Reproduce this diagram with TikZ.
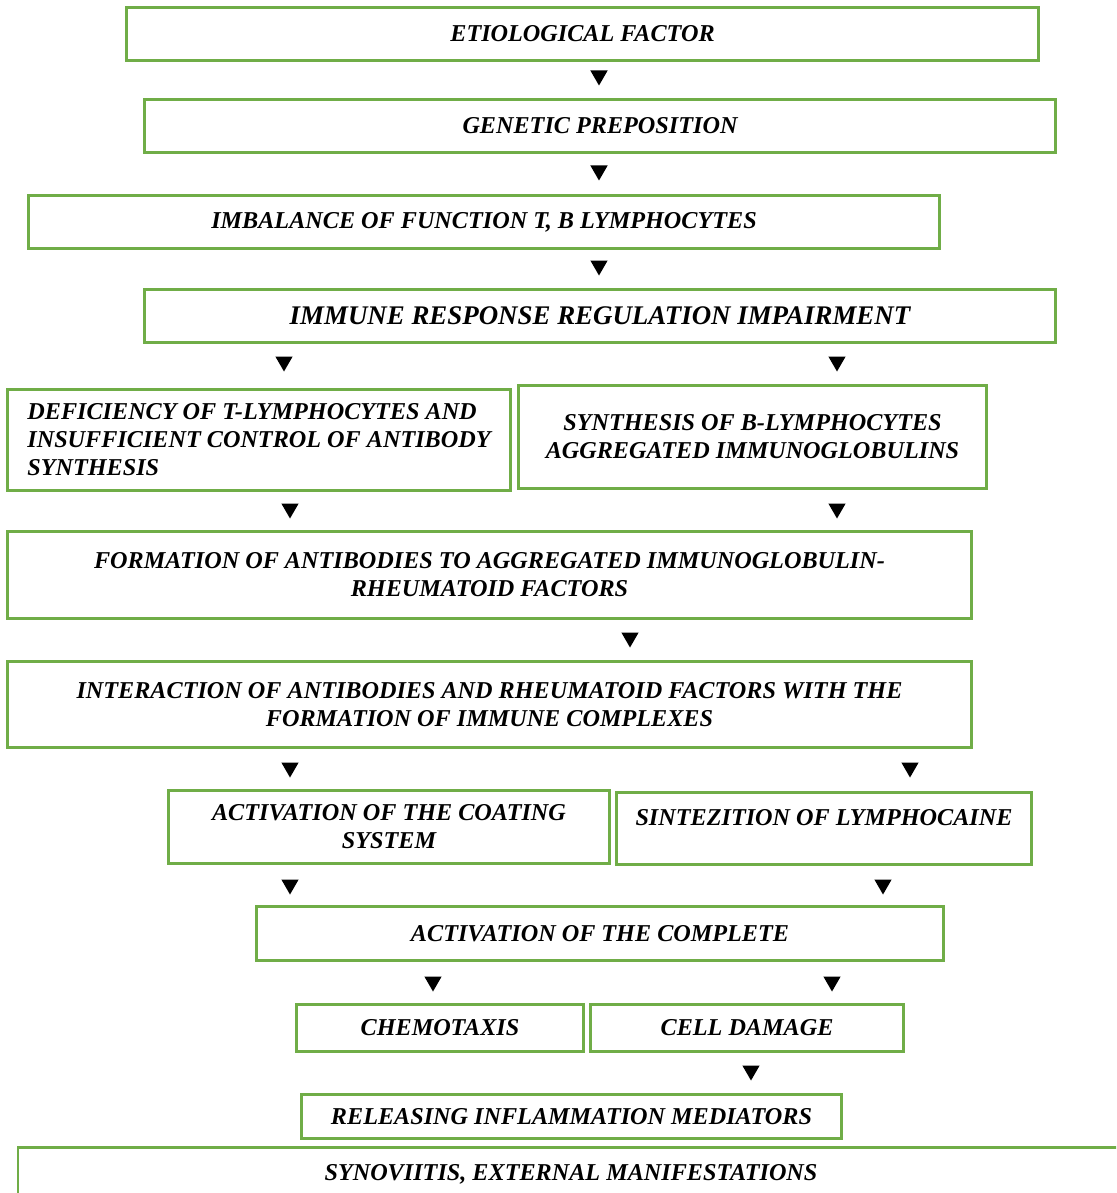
\documentclass[tikz,border=0pt]{standalone}
\usepackage{fontspec}
\setmainfont{Liberation Serif}
\usetikzlibrary{shapes.geometric}
\definecolor{boxgreen}{HTML}{70AD47}

\begin{document}
\begin{tikzpicture}[x=1pt, y=-1pt,
    box/.style={draw=boxgreen, line width=2.6pt, inner sep=0pt, align=center,
      font=\fontsize{24.2}{28}\selectfont\bfseries\itshape},
    bigbox/.style={box, font=\fontsize{26.9}{30}\selectfont\bfseries\itshape},
    marker/.style={regular polygon, regular polygon sides=3, shape border rotate=180,
      fill=black, inner sep=0pt, minimum size=20pt}]
  \clip (0,0) rectangle (1116,1193);
  % boxes
  \node[box, minimum width=912, minimum height=53] (etio) at (582.5,34) {ETIOLOGICAL FACTOR};
  \node[box, minimum width=911, minimum height=53] (gen) at (600,126) {GENETIC PREPOSITION};
  \node[box, minimum width=911, minimum height=53] (imbal) at (484,222) {IMBALANCE OF FUNCTION T, B LYMPHOCYTES};
  \node[bigbox, minimum width=911, minimum height=53] (immune) at (600,316) {IMMUNE RESPONSE REGULATION IMPAIRMENT};
  \node[box, minimum width=503, minimum height=101, align=left] (defic) at (259,440) {DEFICIENCY OF T-LYMPHOCYTES AND\\INSUFFICIENT CONTROL OF ANTIBODY\\SYNTHESIS};
  \node[box, minimum width=468, minimum height=103] (synth) at (752.5,437) {SYNTHESIS OF B-LYMPHOCYTES\\AGGREGATED IMMUNOGLOBULINS};
  \node[box, minimum width=964, minimum height=87] (form) at (489.5,575) {FORMATION OF ANTIBODIES TO AGGREGATED IMMUNOGLOBULIN-\\RHEUMATOID FACTORS};
  \node[box, minimum width=964, minimum height=86] (inter) at (489.5,704.5) {INTERACTION OF ANTIBODIES AND RHEUMATOID FACTORS WITH THE\\FORMATION OF IMMUNE COMPLEXES};
  \node[box, minimum width=441, minimum height=73] (coat) at (389,827) {ACTIVATION OF THE COATING\\SYSTEM};
  \node[box, minimum width=415, minimum height=72, text depth=23pt] (sint) at (824,828.5) {SINTEZITION OF LYMPHOCAINE};
  \node[box, minimum width=687, minimum height=54] (compl) at (600,933.5) {ACTIVATION OF THE COMPLETE};
  \node[box, minimum width=287, minimum height=47] (chemo) at (440,1028) {CHEMOTAXIS};
  \node[box, minimum width=313, minimum height=47] (cell) at (747,1028) {CELL DAMAGE};
  \node[box, minimum width=540, minimum height=44] (rel) at (571.5,1116.5) {RELEASING INFLAMMATION MEDIATORS};
  \node[box, minimum width=1106, minimum height=53] (syn) at (571,1174) {SYNOVIITIS, EXTERNAL MANIFESTATIONS};
  % markers
  \node[marker] (m1) at (599,75.5) {};
  \node[marker] (m2) at (599,170.5) {};
  \node[marker] (m3) at (599,265.5) {};
  \node[marker] (m4) at (284,361.5) {};
  \node[marker] (m5) at (837,361.5) {};
  \node[marker] (m6) at (290,508.5) {};
  \node[marker] (m7) at (837,508.5) {};
  \node[marker] (m8) at (630,637.5) {};
  \node[marker] (m9) at (290,767.5) {};
  \node[marker] (m10) at (910,767.5) {};
  \node[marker] (m11) at (290,884.5) {};
  \node[marker] (m12) at (883,884.5) {};
  \node[marker] (m13) at (433,981.5) {};
  \node[marker] (m14) at (832,981.5) {};
  \node[marker] (m15) at (751,1070.5) {};
\end{tikzpicture}
\end{document}
